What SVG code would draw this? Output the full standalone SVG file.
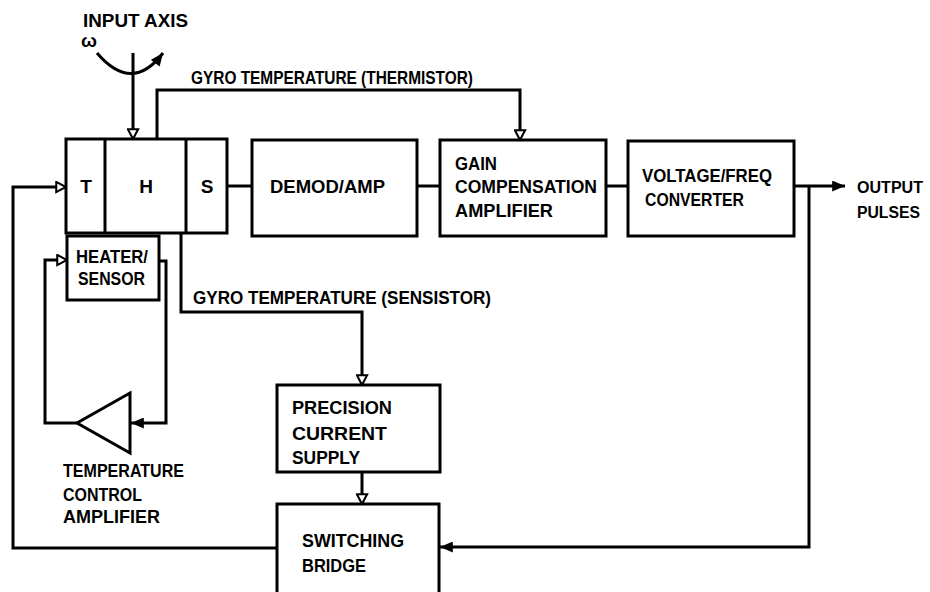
<svg xmlns="http://www.w3.org/2000/svg" width="930" height="592" viewBox="0 0 930 592">
<style>
.bx{fill:#fff;stroke:#000;stroke-width:3}
.ln{fill:none;stroke:#000;stroke-width:3;stroke-linejoin:miter}
.t{font-family:"Liberation Sans",Arial,sans-serif;font-weight:bold;font-size:19px;fill:#000}
.sm{font-size:16px}
</style>
<defs>
<marker id="ho" viewBox="0 0 14 14" refX="12" refY="7" markerWidth="13" markerHeight="13" markerUnits="userSpaceOnUse" orient="auto">
<path d="M1.5,1.5 L12,7 L1.5,12.5 Z" fill="#fff" stroke="#000" stroke-width="2.2"/>
</marker>
<marker id="fi" viewBox="0 0 14 12" refX="14" refY="6" markerWidth="14" markerHeight="11" markerUnits="userSpaceOnUse" orient="auto">
<path d="M0,0 L14,6 L0,12 Z" fill="#000"/>
</marker>
</defs>
<rect width="930" height="592" fill="#fff"/>

<g id="input-axis">
<text class="t" x="83" y="27" textLength="105" lengthAdjust="spacingAndGlyphs">INPUT AXIS</text>
<text class="t" x="81" y="47" textLength="16" lengthAdjust="spacingAndGlyphs">ω</text>
<path class="ln" d="M97,53 Q132,94 163,53" marker-end="url(#fi)"/>
</g>

<g id="connectors">
<path class="ln" d="M133,53 V139" marker-end="url(#ho)"/>
<path class="ln" d="M157,139 V90 H520 V140" marker-end="url(#ho)"/>
<path class="ln" d="M227,186 H252"/>
<path class="ln" d="M417,186 H440"/>
<path class="ln" d="M606,186 H628"/>
<path class="ln" d="M794,186 H845" marker-end="url(#fi)"/>
<path class="ln" d="M809,186 V547 H440" marker-end="url(#fi)"/>
<path class="ln" d="M277,548 H13 V187 H66" marker-end="url(#ho)"/>
<path class="ln" d="M181,233 V312 H362 V385" marker-end="url(#ho)"/>
<path class="ln" d="M362,472 V504" marker-end="url(#ho)"/>
<path class="ln" d="M159,261 H166 V423 H131" marker-end="url(#fi)"/>
<path class="ln" d="M77,423 H45 V260 H67" marker-end="url(#ho)"/>
<text class="t" x="191" y="84" textLength="282" lengthAdjust="spacingAndGlyphs">GYRO TEMPERATURE (THERMISTOR)</text>
<text class="t" x="193" y="304" textLength="298" lengthAdjust="spacingAndGlyphs">GYRO TEMPERATURE (SENSISTOR)</text>
</g>

<g id="gyro">
<rect class="bx" x="66" y="139" width="161" height="94"/>
<path class="ln" d="M105,139 V233 M186,139 V233"/>
<text class="t" x="86" y="193" text-anchor="middle">T</text>
<text class="t" x="146" y="193" text-anchor="middle">H</text>
<text class="t" x="207" y="193" text-anchor="middle">S</text>
</g>

<g id="heater-sensor">
<rect class="bx" x="67" y="236" width="92" height="64"/>
<text class="t" x="76" y="263" textLength="72" lengthAdjust="spacingAndGlyphs">HEATER/</text>
<text class="t" x="78" y="285" textLength="67" lengthAdjust="spacingAndGlyphs">SENSOR</text>
</g>

<g id="demod">
<rect class="bx" x="252" y="140" width="165" height="96"/>
<text class="t" x="270" y="193" textLength="115" lengthAdjust="spacingAndGlyphs">DEMOD/AMP</text>
</g>

<g id="gain">
<rect class="bx" x="440" y="140" width="166" height="96"/>
<text class="t" x="455" y="170" textLength="42" lengthAdjust="spacingAndGlyphs">GAIN</text>
<text class="t" x="455" y="193" textLength="142" lengthAdjust="spacingAndGlyphs">COMPENSATION</text>
<text class="t" x="455" y="217" textLength="98" lengthAdjust="spacingAndGlyphs">AMPLIFIER</text>
</g>

<g id="vf">
<rect class="bx" x="628" y="141" width="166" height="95"/>
<text class="t" x="642" y="182" textLength="130" lengthAdjust="spacingAndGlyphs">VOLTAGE/FREQ</text>
<text class="t" x="645" y="206" textLength="99" lengthAdjust="spacingAndGlyphs">CONVERTER</text>
</g>

<g id="output">
<text class="t sm" x="857" y="193" textLength="66" lengthAdjust="spacingAndGlyphs">OUTPUT</text>
<text class="t sm" x="857" y="218" textLength="63" lengthAdjust="spacingAndGlyphs">PULSES</text>
</g>

<g id="temp-amp">
<polygon class="bx" points="130,393 130,453 77,423"/>
<text class="t" x="63" y="477" textLength="121" lengthAdjust="spacingAndGlyphs">TEMPERATURE</text>
<text class="t" x="63" y="501" textLength="79" lengthAdjust="spacingAndGlyphs">CONTROL</text>
<text class="t" x="63" y="523" textLength="97" lengthAdjust="spacingAndGlyphs">AMPLIFIER</text>
</g>

<g id="precision">
<rect class="bx" x="277" y="385" width="163" height="87"/>
<text class="t" x="292" y="414" textLength="100" lengthAdjust="spacingAndGlyphs">PRECISION</text>
<text class="t" x="292" y="440" textLength="95" lengthAdjust="spacingAndGlyphs">CURRENT</text>
<text class="t" x="292" y="464" textLength="68" lengthAdjust="spacingAndGlyphs">SUPPLY</text>
</g>

<g id="switching">
<rect class="bx" x="277" y="504" width="162" height="100"/>
<text class="t" x="302" y="547" textLength="102" lengthAdjust="spacingAndGlyphs">SWITCHING</text>
<text class="t" x="302" y="572" textLength="64" lengthAdjust="spacingAndGlyphs">BRIDGE</text>
</g>
</svg>
